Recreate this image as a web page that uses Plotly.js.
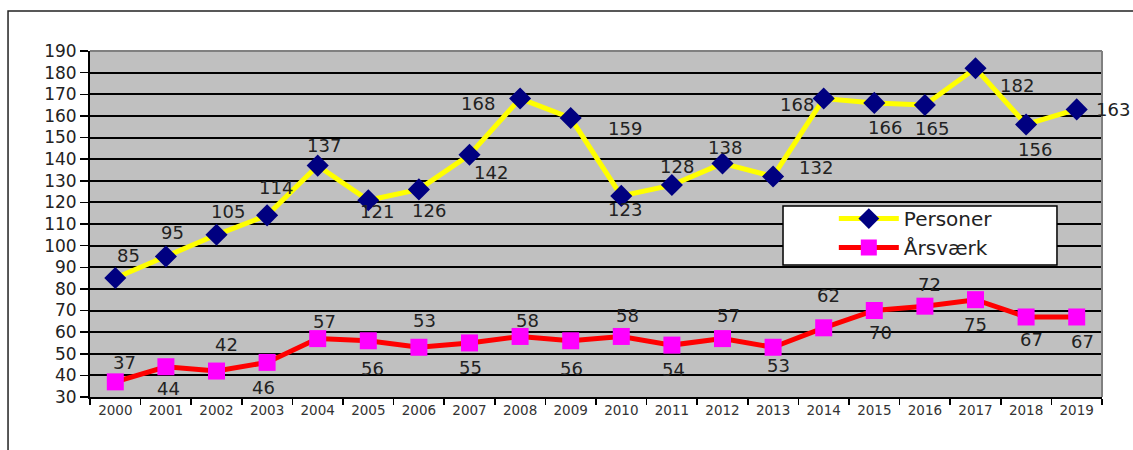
<!DOCTYPE html>
<html>
<head>
<meta charset="utf-8">
<script src="https://cdn.plot.ly/plotly-3.0.1.min.js"></script>
<style>html,body{margin:0;padding:0;background:#fff;}#chart{width:1133px;height:450px;}</style>
</head>
<body>
<div id="chart"></div>
<script>
const years = ["2000","2001","2002","2003","2004","2005","2006","2007","2008","2009","2010","2011","2012","2013","2014","2015","2016","2017","2018","2019"];
const personer = [85,95,105,114,137,121,126,142,168,159,123,128,138,132,168,166,165,182,156,163];
const aarsvaerk = [37,44,42,46,57,56,53,55,58,56,58,54,57,53,62,70,72,75,67,67];
// label offsets in screen pixels [dx, dy] (dy positive = downwards)
const personerLabelOffset = [[13,-23],[7,-24],[11,-23],[9,-28],[6,-20],[9,11],[10,21],[21,18],[-42,5],[54,10],[4,14],[5,-19],[2,-16],[43,-9],[-27,6],[11,25],[7,23],[41,17],[9,25],[36,0]];
const aarsvaerkLabelOffset = [[9,-19],[3,22],[10,-27],[-4,25],[7,-17],[4,28],[6,-27],[1,25],[7,-16],[1,28],[6,-21],[2,24],[6,-23],[5,18],[5,-32],[6,22],[5,-22],[0,25],[5,23],[6,25]];

const font = "DejaVu Sans, Verdana, sans-serif";
const traces = [
  {
    x: years, y: personer, name: "Personer", type: "scatter", mode: "lines+markers",
    line: {color: "#ffff00", width: 5},
    marker: {symbol: "diamond", size: 17, color: "#000080"},
    cliponaxis: false
  },
  {
    x: years, y: aarsvaerk, name: "Årsværk", type: "scatter", mode: "lines+markers",
    line: {color: "#ff0000", width: 5},
    marker: {symbol: "square", size: 17, color: "#ff00ff"},
    cliponaxis: false
  }
];

// on a category axis, annotation x is the category's serial index
function labels(values, offsets) {
  return values.map((v, i) => ({
    x: years.indexOf(years[i]), y: v, xref: "x", yref: "y",
    text: String(v), showarrow: false,
    xanchor: "center", yanchor: "middle",
    xshift: offsets[i][0], yshift: -offsets[i][1],
    font: {family: font, size: 18, color: "#222"}
  }));
}

const layout = {
  width: 1133, height: 450,
  margin: {l: 90, r: 31, t: 51, b: 53},
  paper_bgcolor: "#ffffff",
  plot_bgcolor: "#c0c0c0",
  font: {family: font, color: "#222"},
  showlegend: true,
  legend: {
    x: 0.735, y: 0.572, xanchor: "left", yanchor: "top",
    bgcolor: "rgba(0,0,0,0)", borderwidth: 0,
    font: {family: font, size: 20, color: "#222"},
    tracegroupgap: 0, itemwidth: 60
  },
  xaxis: {
    type: "category", tickson: "boundaries",
    ticks: "outside", ticklen: 6, tickwidth: 1.5, tickcolor: "#000",
    showline: true, linecolor: "#000", linewidth: 2,
    showgrid: false, zeroline: false,
    tickfont: {family: font, size: 13.5, color: "#333"},
    range: [-0.5, 19.5], fixedrange: true
  },
  yaxis: {
    range: [30, 190], dtick: 10, tick0: 30,
    ticks: "outside", ticklen: 8, tickwidth: 1.5, tickcolor: "#000",
    showline: true, linecolor: "#000", linewidth: 2,
    showgrid: true, gridcolor: "#000", gridwidth: 2,
    zeroline: false,
    tickfont: {family: font, size: 17, color: "#222"},
    fixedrange: true
  },
  annotations: labels(personer, personerLabelOffset).concat(labels(aarsvaerk, aarsvaerkLabelOffset)),
  shapes: [
    {type: "line", xref: "paper", yref: "paper", x0: 0, x1: 1, y0: 1, y1: 1, line: {color: "#808080", width: 2}, layer: "above"},
    {type: "line", xref: "paper", yref: "paper", x0: 1, x1: 1, y0: 0, y1: 1, line: {color: "#808080", width: 2}, layer: "above"},
    {type: "rect", xref: "paper", yref: "paper", x0: -0.081, x1: 1.05, y0: -0.2, y1: 1.1156, line: {color: "#222", width: 1.5}, fillcolor: "rgba(0,0,0,0)", layer: "below"},
    {type: "rect", xref: "paper", yref: "paper", x0: 0.6848, x1: 0.9555, y0: 0.3815, y1: 0.552, line: {color: "#000", width: 1.5}, fillcolor: "#ffffff", layer: "above"}
  ]
};

Plotly.newPlot("chart", traces, layout, {staticPlot: true, displayModeBar: false});
</script>
</body>
</html>
